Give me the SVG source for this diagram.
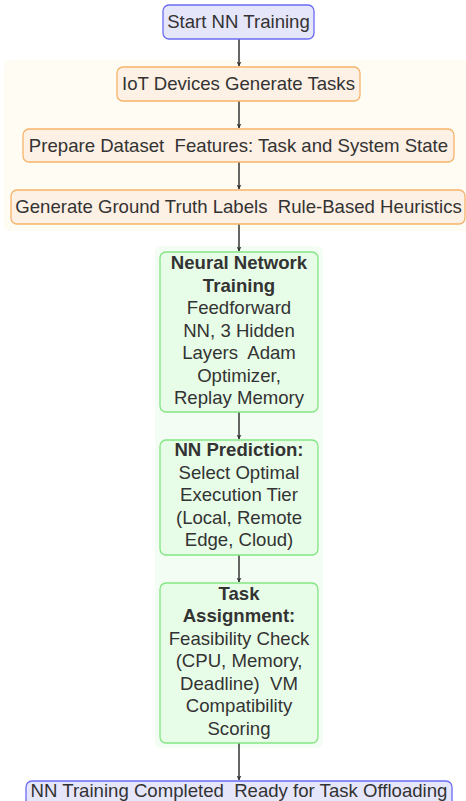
<svg xmlns="http://www.w3.org/2000/svg" width="466" height="801" viewBox="0 0 466 801">
  <style>
    text { font-family: "Liberation Sans", Arial, sans-serif; font-size: 18.6px; fill: #333; text-anchor: middle; white-space: pre; }
    .b { font-weight: bold; }
    .term { fill: #e6e6fb; stroke: #6b6bf2; stroke-width: 1.3; }
    .prep { fill: #fdf0e4; stroke: #f8b36a; stroke-width: 1.3; }
    .nn { fill: #e8fde8; stroke: #82e682; stroke-width: 1.3; }
    .edge { stroke: #333; stroke-width: 1.5; fill: none; marker-end: url(#arrow); }
  </style>
  <defs>
    <marker id="arrow" viewBox="0 0 10 10" refX="9" refY="5" markerWidth="5" markerHeight="5" orient="auto" markerUnits="userSpaceOnUse">
      <path d="M0,0 L10,5 L0,10 L3,5 z" fill="#333"/>
    </marker>
  </defs>

  <rect width="466" height="801" fill="#ffffff"/>

  <!-- cluster backgrounds -->
  <g id="cluster-prep">
    <rect x="4" y="60" width="470" height="171" rx="6" fill="#fffdf3"/>
  </g>
  <g id="cluster-nn">
    <rect x="155" y="246" width="168" height="502" rx="6" fill="#f3fdf3"/>
  </g>

  <!-- connectors -->
  <g id="connectors">
    <line class="edge" x1="239" y1="39" x2="239" y2="66"/>
    <line class="edge" x1="239" y1="101" x2="239" y2="128"/>
    <line class="edge" x1="239" y1="162" x2="239" y2="189"/>
    <line class="edge" x1="239" y1="224" x2="239" y2="251"/>
    <line class="edge" x1="239" y1="412" x2="239" y2="439"/>
    <line class="edge" x1="239" y1="555" x2="239" y2="582"/>
    <line class="edge" x1="239" y1="743" x2="239" y2="780"/>
  </g>

  <g id="start">
    <rect class="term" x="163" y="5" width="151" height="34" rx="6"/>
    <text x="238.5" y="28">Start NN Training</text>
  </g>

  <g id="iot">
    <rect class="prep" x="117" y="67" width="243" height="34" rx="6"/>
    <text x="238.5" y="90">IoT Devices Generate Tasks</text>
  </g>

  <g id="prepare">
    <rect class="prep" x="23" y="129" width="431" height="33" rx="6"/>
    <text x="238.5" y="152" xml:space="preserve">Prepare Dataset  Features: Task and System State</text>
  </g>

  <g id="labels">
    <rect class="prep" x="11" y="190" width="454" height="34" rx="6"/>
    <text x="238.5" y="213" xml:space="preserve">Generate Ground Truth Labels  Rule-Based Heuristics</text>
  </g>

  <g id="training">
    <rect class="nn" x="160" y="252" width="158" height="160" rx="6"/>
    <text x="239" y="269" class="b">Neural Network</text>
    <text x="239" y="292" class="b">Training</text>
    <text x="239" y="314">Feedforward</text>
    <text x="239" y="337">NN, 3 Hidden</text>
    <text x="239" y="359" xml:space="preserve">Layers  Adam</text>
    <text x="239" y="382">Optimizer,</text>
    <text x="239" y="404">Replay Memory</text>
  </g>

  <g id="prediction">
    <rect class="nn" x="160" y="440" width="158" height="115" rx="6"/>
    <text x="239" y="456" class="b">NN Prediction:</text>
    <text x="239" y="479">Select Optimal</text>
    <text x="239" y="501">Execution Tier</text>
    <text x="239" y="524">(Local, Remote</text>
    <text x="239" y="546">Edge, Cloud)</text>
  </g>

  <g id="assignment">
    <rect class="nn" x="160" y="583" width="158" height="160" rx="6"/>
    <text x="239" y="600" class="b">Task</text>
    <text x="239" y="622" class="b">Assignment:</text>
    <text x="239" y="645">Feasibility Check</text>
    <text x="239" y="667">(CPU, Memory,</text>
    <text x="239" y="690" xml:space="preserve">Deadline)  VM</text>
    <text x="239" y="712">Compatibility</text>
    <text x="239" y="735">Scoring</text>
  </g>

  <g id="done">
    <rect class="term" x="26" y="781" width="426" height="34" rx="6"/>
    <text x="239" y="797" xml:space="preserve">NN Training Completed  Ready for Task Offloading</text>
  </g>
</svg>
